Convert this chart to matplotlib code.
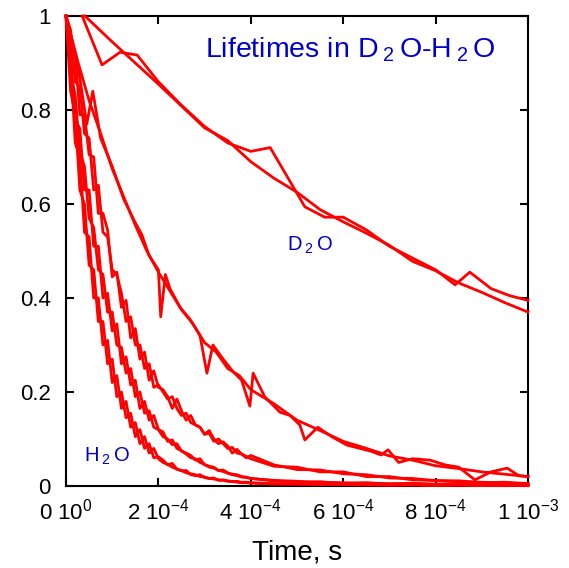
import numpy as np
import matplotlib
matplotlib.use("Agg")
import matplotlib.pyplot as plt

plt.rcParams['font.family'] = ['Liberation Sans', 'DejaVu Sans']
plt.rcParams['mathtext.default'] = 'regular'

# Times are in units of 1e-4 s
# D2O traces (sparse sampling)
t_d2o_a = [0.41, 1.0, 2.0, 3.0, 3.5, 4.0, 4.5, 5.0, 5.5, 6.0, 6.5, 7.0, 7.5, 8.0, 8.5, 9.0, 9.5, 10.0]
y_d2o_a = [1.0, 0.945, 0.855, 0.762, 0.735, 0.69, 0.655, 0.625, 0.588, 0.562, 0.538, 0.512, 0.478, 0.458, 0.432, 0.412, 0.39, 0.37]
t_d2o_b = [0.35, 0.78, 1.17, 1.54, 2.0, 2.5, 3.0, 3.5, 4.0, 4.42, 5.17, 5.6, 6.0, 6.5, 7.0, 7.5, 8.0, 8.42, 8.74, 9.2, 9.6, 10.0]
y_d2o_b = [1.0, 0.896, 0.923, 0.917, 0.86, 0.81, 0.765, 0.73, 0.712, 0.72, 0.594, 0.572, 0.572, 0.545, 0.51, 0.485, 0.46, 0.428, 0.455, 0.42, 0.405, 0.395]

# intermediate mixture
t_mix_a = [0, 0.25, 0.45, 0.58, 0.75, 1.0, 1.25, 1.5, 1.64, 1.8, 2.0, 2.05, 2.15, 2.25, 2.47, 2.68, 2.9, 3.05,
           3.18, 3.4, 3.6, 3.8, 3.98, 4.05, 4.3, 4.63, 4.85, 5.06, 5.17, 5.45, 5.75, 6.08, 6.36, 6.6, 6.82, 6.97,
           7.2, 7.5, 7.88, 8.2, 8.5, 8.85, 9.2, 9.55, 9.8, 10.0]
y_mix_a = [1.0, 0.90, 0.77, 0.84, 0.74, 0.68, 0.61, 0.56, 0.535, 0.49, 0.46, 0.36, 0.45, 0.42, 0.38, 0.355, 0.32, 0.24,
           0.30, 0.27, 0.245, 0.225, 0.17, 0.24, 0.19, 0.157, 0.15, 0.13, 0.098, 0.125, 0.105, 0.087, 0.08, 0.074, 0.066, 0.077,
           0.05, 0.058, 0.055, 0.045, 0.04, 0.013, 0.03, 0.038, 0.022, 0.02]
t_mix_b = [0, 0.25, 0.5, 0.75, 1.0, 1.25, 1.5, 1.75, 2.0, 2.25, 2.5, 2.75, 3.0, 3.25, 3.5, 3.75, 4.0, 4.5, 5.0,
           5.5, 6.0, 6.5, 7.0, 7.5, 8.0, 8.5, 9.0, 9.5, 10.0]
y_mix_b = [1.0, 0.905, 0.82, 0.75, 0.675, 0.615, 0.555, 0.50, 0.455, 0.415, 0.375, 0.345, 0.305, 0.285, 0.25, 0.235, 0.205,
           0.175, 0.14, 0.118, 0.095, 0.08, 0.064, 0.055, 0.043, 0.037, 0.03, 0.025, 0.02]

# fast traces share one time grid: 0..4 by 0.1, then 4.5..10 by 0.5
t_fast = [round(0.1 * i, 1) for i in range(41)] + [4.5, 5.0, 5.5, 6.0, 6.5, 7.0, 7.5, 8.0, 8.5, 9.0, 9.5, 10.0]
y_c1 = [1.0, 0.92, 0.92, 0.79, 0.79, 0.705, 0.70, 0.58, 0.58, 0.545, 0.445, 0.455, 0.38, 0.395, 0.315, 0.335, 0.27, 0.285,
        0.225, 0.245, 0.21, 0.205, 0.19, 0.165, 0.185, 0.16, 0.14, 0.15, 0.13, 0.125, 0.11, 0.118, 0.10, 0.09, 0.094,
        0.085, 0.07, 0.078, 0.068, 0.06, 0.065,
        0.045, 0.035, 0.034, 0.026, 0.024, 0.017, 0.016, 0.011, 0.011, 0.007, 0.008, 0.005]
y_c2 = [1.0, 0.97, 0.86, 0.85, 0.75, 0.74, 0.63, 0.64, 0.54, 0.53, 0.46, 0.45, 0.41, 0.35, 0.36, 0.30, 0.30, 0.25, 0.26, 0.21,
        0.215, 0.20, 0.185, 0.19, 0.165, 0.15, 0.155, 0.135, 0.13, 0.125, 0.11, 0.112, 0.095, 0.10, 0.09, 0.08, 0.082, 0.07,
        0.068, 0.063, 0.058,
        0.042, 0.04, 0.03, 0.03, 0.02, 0.02, 0.013, 0.012, 0.009, 0.008, 0.006, 0.005]
y_d1 = [1.0, 0.92, 0.78, 0.76, 0.63, 0.63, 0.51, 0.51, 0.40, 0.41, 0.33, 0.345, 0.26, 0.275, 0.215, 0.225, 0.165, 0.18, 0.14, 0.15,
        0.12, 0.105, 0.10, 0.088, 0.09, 0.074, 0.07, 0.065, 0.055, 0.058, 0.045, 0.042, 0.04, 0.033, 0.034, 0.028, 0.025,
        0.024, 0.02, 0.019, 0.016,
        0.011, 0.007, 0.009, 0.005, 0.007, 0.004, 0.006, 0.003, 0.005, 0.003, 0.004, 0.003]
y_d2 = [1.0, 0.88, 0.83, 0.71, 0.68, 0.57, 0.55, 0.46, 0.45, 0.37, 0.37, 0.30, 0.295, 0.24, 0.25, 0.19, 0.20, 0.155, 0.16, 0.125,
        0.12, 0.115, 0.095, 0.098, 0.08, 0.075, 0.068, 0.06, 0.058, 0.05, 0.046, 0.04, 0.038, 0.033, 0.031, 0.027, 0.024,
        0.022, 0.019, 0.018, 0.016,
        0.012, 0.01, 0.008, 0.007, 0.006, 0.005, 0.005, 0.004, 0.004, 0.003, 0.003, 0.002]
y_h2o_1 = [1.0, 0.84, 0.79, 0.63, 0.60, 0.47, 0.46, 0.35, 0.35, 0.26, 0.27, 0.19, 0.20, 0.145, 0.155, 0.105, 0.12, 0.08, 0.09, 0.06,
           0.062, 0.055, 0.045, 0.048, 0.036, 0.032, 0.033, 0.024, 0.022, 0.024, 0.018, 0.016, 0.017, 0.012, 0.013, 0.011,
           0.009, 0.01, 0.008, 0.008, 0.007,
           0.005, 0.004, 0.004, 0.003, 0.003, 0.002, 0.003, 0.002, 0.002, 0.001, 0.002, 0.001]
y_h2o_2 = [1.0, 0.90, 0.73, 0.70, 0.54, 0.53, 0.40, 0.40, 0.30, 0.31, 0.22, 0.235, 0.165, 0.18, 0.125, 0.135, 0.09, 0.105, 0.07, 0.08,
           0.058, 0.05, 0.046, 0.04, 0.036, 0.033, 0.028, 0.026, 0.024, 0.02, 0.019, 0.016, 0.015, 0.013, 0.012, 0.01, 0.01,
           0.008, 0.007, 0.007, 0.006,
           0.004, 0.004, 0.003, 0.003, 0.002, 0.002, 0.002, 0.001, 0.002, 0.001, 0.001, 0.001]

xticks = [0, 2e-4, 4e-4, 6e-4, 8e-4, 1e-3]
xtick_labels = ["0 10$^{0}$", "2 10$^{-4}$", "4 10$^{-4}$", "6 10$^{-4}$", "8 10$^{-4}$", "1 10$^{-3}$"]
yticks = [0, 0.2, 0.4, 0.6, 0.8, 1]
ytick_labels = ["0", "0.2", "0.4", "0.6", "0.8", "1"]

red = "#ff0000"
blue = "#0000cc"

fig = plt.figure(figsize=(5.69, 5.68), dpi=100)
ax = fig.add_axes([0.116, 0.1444, 0.812, 0.8274])

traces = [(t_d2o_a, y_d2o_a), (t_d2o_b, y_d2o_b), (t_mix_a, y_mix_a), (t_mix_b, y_mix_b),
          (t_fast, y_c1), (t_fast, y_c2), (t_fast, y_d1), (t_fast, y_d2), (t_fast, y_h2o_1), (t_fast, y_h2o_2)]
for t, y in traces:
    ax.plot(np.array(t) * 1e-4, y, color=red, lw=2.0, zorder=3, clip_on=False)

ax.set_xlim(0, 1e-3)
ax.set_ylim(0, 1)
ax.set_xticks(xticks)
ax.set_xticklabels(xtick_labels)
ax.set_yticks(yticks)
ax.set_yticklabels(ytick_labels)
ax.tick_params(direction="in", length=6, width=1.5, top=True, right=True, labelsize=16)
ax.tick_params(axis="x", pad=9)
ax.tick_params(axis="y", pad=11)
for s in ax.spines.values():
    s.set_linewidth(1.5)

ax.set_xlabel("Time, s", fontsize=20, labelpad=11)

ax.text(6.15e-4, 0.928, r"Lifetimes in D$\,_2\,$O-H$\,_2\,$O", color=blue, fontsize=20.5, ha="center", va="center")
ax.text(5.28e-4, 0.513, r"D$\,_2\,$O", color=blue, fontsize=14.5, ha="center", va="center")
ax.text(0.89e-4, 0.062, r"H$\,_2\,$O", color=blue, fontsize=14.5, ha="center", va="center")

plt.savefig("out.png", dpi=100)
